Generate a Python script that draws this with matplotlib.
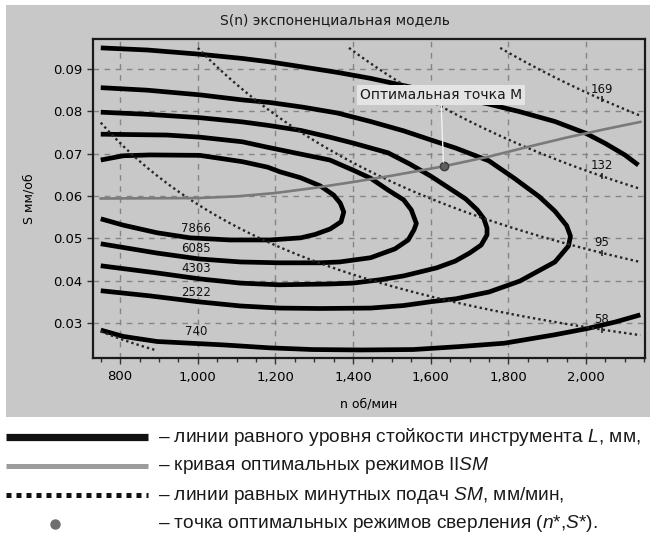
import matplotlib
matplotlib.use("Agg")
import matplotlib.pyplot as plt
import numpy as np
from matplotlib.patches import Rectangle
from matplotlib.ticker import FuncFormatter, MultipleLocator

plt.rcParams['font.family'] = ['DejaVu Sans']
plt.rcParams['mathtext.fontset'] = 'custom'
plt.rcParams['mathtext.rm'] = 'Liberation Sans'
plt.rcParams['mathtext.it'] = 'Liberation Sans:italic'

# --- tool life contours L, mm (upper branch left->right, lower branch right->left)
l_levels = [740, 2522, 4303, 6085, 7866]

l740_upper_n = [750, 870, 1005, 1115, 1185, 1270, 1360, 1445, 1545, 1665, 1750, 1830, 1920, 2000, 2050, 2100, 2135]
l740_upper_s = [0.0950, 0.0945, 0.0935, 0.0925, 0.0917, 0.0905, 0.0892, 0.0878, 0.0858, 0.0834, 0.0817, 0.0799, 0.0776, 0.0748, 0.0724, 0.0697, 0.0673]
l740_lower_n = [750, 808, 895, 980, 1065, 1185, 1295, 1420, 1555, 1675, 1790, 1920, 2005, 2075, 2140]
l740_lower_s = [0.0283, 0.0268, 0.0256, 0.0252, 0.0248, 0.0241, 0.0237, 0.0236, 0.0237, 0.0244, 0.0252, 0.0272, 0.0287, 0.0302, 0.0319]

l2522_upper_n = [750, 870, 1005, 1115, 1185, 1270, 1360, 1445, 1530, 1615, 1665, 1750, 1815, 1880, 1920, 1950, 1960]
l2522_upper_s = [0.0856, 0.0850, 0.0839, 0.0827, 0.0821, 0.0810, 0.0796, 0.0776, 0.0754, 0.0728, 0.0713, 0.0683, 0.0642, 0.0598, 0.0564, 0.0530, 0.0505]
l2522_lower_n = [1955, 1920, 1830, 1750, 1665, 1600, 1530, 1445, 1315, 1210, 1110, 1000, 875, 750]
l2522_lower_s = [0.0482, 0.0444, 0.0399, 0.0373, 0.0357, 0.0350, 0.0341, 0.0335, 0.0334, 0.0335, 0.0340, 0.0350, 0.0364, 0.0376]

l4303_upper_n = [750, 870, 1005, 1115, 1180, 1265, 1340, 1400, 1490, 1545, 1600, 1650, 1690, 1720, 1737, 1745]
l4303_upper_s = [0.0798, 0.0793, 0.0785, 0.0775, 0.0767, 0.0755, 0.0739, 0.0725, 0.0702, 0.0676, 0.0647, 0.0617, 0.0593, 0.0567, 0.0546, 0.0524]
l4303_lower_n = [1745, 1730, 1700, 1663, 1615, 1530, 1470, 1400, 1340, 1210, 1110, 1005, 895, 750]
l4303_lower_s = [0.0508, 0.0484, 0.0465, 0.0446, 0.0430, 0.0411, 0.0402, 0.0394, 0.0392, 0.0390, 0.0394, 0.0404, 0.0418, 0.0435]

l6085_upper_n = [750, 920, 1005, 1115, 1180, 1265, 1340, 1400, 1445, 1490, 1530, 1550, 1563]
l6085_upper_s = [0.0746, 0.0744, 0.0739, 0.0728, 0.0715, 0.0699, 0.0685, 0.0661, 0.0642, 0.0614, 0.0591, 0.0567, 0.0535]
l6085_lower_n = [1557, 1542, 1508, 1445, 1365, 1315, 1210, 1110, 1005, 895, 750]
l6085_lower_s = [0.0520, 0.0496, 0.0475, 0.0454, 0.0444, 0.0442, 0.0442, 0.0444, 0.0451, 0.0465, 0.0487]

l7866_upper_n = [750, 808, 877, 1005, 1115, 1180, 1212, 1265, 1315, 1350, 1367, 1376]
l7866_upper_s = [0.0685, 0.0695, 0.0697, 0.0696, 0.0681, 0.0668, 0.0657, 0.0643, 0.0624, 0.0602, 0.0583, 0.0562]
l7866_lower_n = [1369, 1341, 1302, 1265, 1186, 1083, 980, 895, 808, 750]
l7866_lower_s = [0.0539, 0.0522, 0.0509, 0.0501, 0.0496, 0.0496, 0.0501, 0.0513, 0.0531, 0.0546]

# label positions of the L levels (drawn just above the lower branches)
l_label_n = [995, 995, 995, 995, 995]
l_label_s = [0.0279, 0.0371, 0.0428, 0.0475, 0.0522]

# --- optimal regime curve IISM and optimal point M
opt_n = [750, 1000, 1100, 1200, 1300, 1400, 1500, 1633, 1750, 1850, 1950, 2050, 2140]
opt_s = [0.0594, 0.0595, 0.0599, 0.0607, 0.0619, 0.0633, 0.0648, 0.0670, 0.0693, 0.0716, 0.0738, 0.0758, 0.0775]
m_n, m_s = 1633, 0.0670

# --- equal minute feed lines SM = n*S, mm/min
sm_levels = [21, 58, 95, 132, 169]
sm_labelled = [58, 95, 132, 169]
sm_label_n = 2040
n_range = (750, 2140)
s_range = (0.0236, 0.095)

fig = plt.figure(figsize=(6.5, 5.38), dpi=100)
fig.patch.set_facecolor('white')
panel_bg = '#c8c8c8'
fig.patches.append(Rectangle((6 / 650, 121 / 538), 1 - 6 / 650, 412 / 538,
                             transform=fig.transFigure, facecolor=panel_bg,
                             edgecolor='none', zorder=-5))

ax = fig.add_axes([93 / 650, 180 / 538, 552 / 650, 319 / 538])
ax.set_facecolor(panel_bg)

ax.set_xlim(730, 2152)
ax.set_ylim(0.0217, 0.0971)
ax.xaxis.set_major_locator(MultipleLocator(200))
ax.xaxis.set_minor_locator(MultipleLocator(50))
ax.yaxis.set_major_locator(MultipleLocator(0.01))
ax.xaxis.set_major_formatter(FuncFormatter(lambda v, p: f"{v:,.0f}"))
ax.yaxis.set_major_formatter(FuncFormatter(lambda v, p: f"{v:.2f}"))
ax.tick_params(axis='both', which='major', labelsize=9.5, length=4, width=1, color='#333333', pad=3.5)
ax.tick_params(axis='x', which='major', pad=5)
ax.tick_params(axis='x', which='minor', length=3, width=1, color='#333333')
ax.grid(True, which='major', linestyle=(0, (4, 4)), color='#858585', linewidth=1)
ax.set_axisbelow(True)
for sp in ax.spines.values():
    sp.set_color('#1a1a1a')
    sp.set_linewidth(1.6)

# tool life contours
curve_kw = dict(color='black', linewidth=3.4, solid_joinstyle='round', solid_capstyle='butt', zorder=3)
ax.plot(l740_upper_n, l740_upper_s, **curve_kw)
ax.plot(l740_lower_n, l740_lower_s, **curve_kw)
ax.plot(l2522_upper_n + l2522_lower_n, l2522_upper_s + l2522_lower_s, **curve_kw)
ax.plot(l4303_upper_n + l4303_lower_n, l4303_upper_s + l4303_lower_s, **curve_kw)
ax.plot(l6085_upper_n + l6085_lower_n, l6085_upper_s + l6085_lower_s, **curve_kw)
ax.plot(l7866_upper_n + l7866_lower_n, l7866_upper_s + l7866_lower_s, **curve_kw)
for lev, tn, ts in zip(l_levels, l_label_n, l_label_s):
    ax.text(tn, ts, str(lev), fontsize=8.5, ha='center', va='center', color='#111111', zorder=6)

# equal minute feed lines
ng, sg = np.meshgrid(np.linspace(*n_range, 400), np.linspace(*s_range, 400))
ax.contour(ng, sg, ng * sg, levels=sm_levels, colors='#262626',
           linewidths=1.7, linestyles=[(0, (1, 1.3))], zorder=4)
for sm in sm_labelled:
    ax.plot(sm_label_n, sm / sm_label_n, marker='|', markersize=5, mew=1.2, color='#262626', zorder=5)
    ax.text(sm_label_n, sm / sm_label_n + 0.0024, str(sm), fontsize=8.5,
            ha='center', va='center', color='#111111', zorder=6)

# optimal curve and point
ax.plot(opt_n, opt_s, color='#7a7a7a', linewidth=1.9, zorder=5)
ax.plot(m_n, m_s, marker='o', markersize=6, color='#5e5e5e', mec='#3c3c3c', zorder=7)
ax.annotate("Оптимальная точка M", xy=(m_n, m_s), xytext=(1418, 0.0838),
            fontsize=10, ha='left', va='center', color='#1a1a1a', zorder=8,
            bbox=dict(boxstyle='square,pad=0.2', fc='#e4e4e4', ec='none'),
            arrowprops=dict(arrowstyle='-', color='#f2f2f2', lw=1,
                            relpos=(0.5, 0), shrinkA=0, shrinkB=3))

ax.set_xlabel("n об/мин", fontsize=9)
ax.set_ylabel("S мм/об", fontsize=9)
ax.xaxis.set_label_coords(0.5, -0.125)
ax.yaxis.set_label_coords(-0.105, 0.5)
fig.text(335 / 650, 1 - 20 / 538, "S(n) экспоненциальная модель", fontsize=10,
         ha='center', va='center', color='#1a1a1a')

# legend below the chart, laid out in pixel units
lax = fig.add_axes([0, 0, 1, 121 / 538])
lax.set_xlim(0, 650)
lax.set_ylim(538, 417)
lax.axis('off')
rows = [437, 466, 495, 524]
lax.plot([6, 148], [rows[0]] * 2, color='#111111', linewidth=5.2, solid_capstyle='butt')
lax.plot([6, 148], [rows[1]] * 2, color='#9c9c9c', linewidth=3.6, solid_capstyle='butt')
lax.plot([6, 148], [rows[2]] * 2, color='#111111', linewidth=3.6,
         linestyle=(0, (1, 1)), dash_capstyle='butt')
lax.plot([55], [rows[3]], marker='o', markersize=6.5, color='#6e6e6e', mec='#6e6e6e')
legend_texts = [
    "– линии равного уровня стойкости инструмента $L$, мм,",
    "– кривая оптимальных режимов II$SM$",
    "– линии равных минутных подач $SM$, мм/мин,",
    "– точка оптимальных режимов сверления ($n$*,$S$*).",
]
for y, t in zip(rows, legend_texts):
    lax.text(158, y, t, fontsize=13.8, family='Liberation Sans', ha='left', va='center', color='#1a1a1a')

fig.savefig("out.png", dpi=100)
